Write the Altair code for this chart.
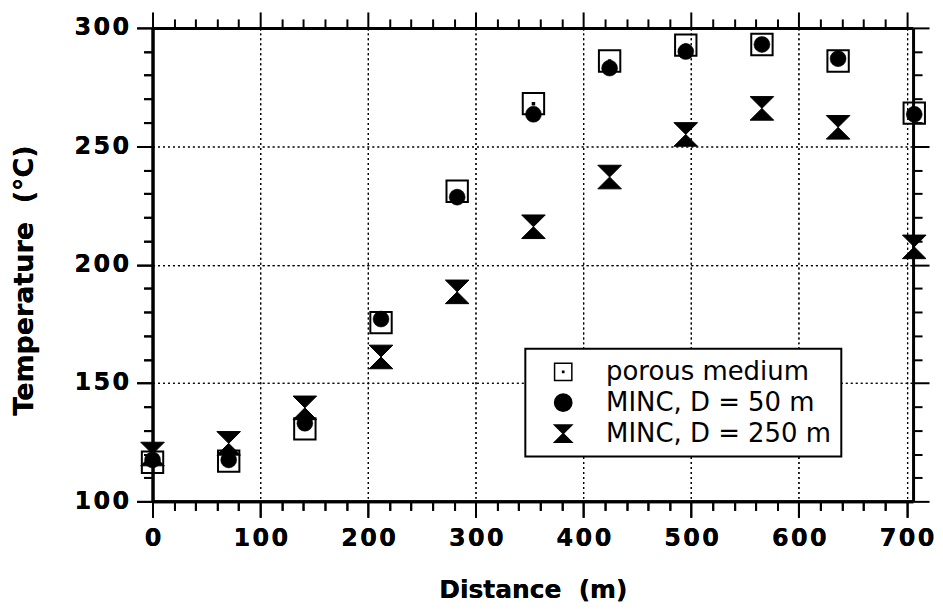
import altair as alt
import pandas as pd

# ---- data ----
distance = [0, 70.7, 141.4, 212.1, 282.8, 353.6, 424.3, 495.0, 565.7, 636.4, 707.1]
porous = [116.5, 117.0, 130.6, 175.5, 231.0, 268.0, 286.0, 292.7, 293.0, 286.0, 264.0]
minc50 = [117.5, 117.5, 133.0, 177.0, 228.5, 263.5, 283.0, 290.0, 293.0, 287.0, 263.5]
minc250 = [120.0, 124.5, 139.5, 161.0, 188.5, 216.0, 237.0, 255.0, 266.0, 258.0, 207.5]
series = ["porous medium", "MINC, D = 50 m", "MINC, D = 250 m"]
x_ticks = list(range(0, 701, 20))
y_ticks = list(range(100, 301, 10))

rows = []
for name, vals in zip(series, [porous, minc50, minc250]):
    for d, t in zip(distance, vals):
        rows.append({"distance": d, "temp": t, "series": name})
df = pd.DataFrame(rows)

SQUARE = "M-1,-1H1V1H-1Z M-0.07,-0.07H0.07V0.07H-0.07Z"
BOWTIE = "M-1,-1H1L-1,1H1Z"

FONT = "DejaVu Sans"
GAP = "\u200a"
NB = "\u00a0"

x_scale = alt.Scale(domain=[0, 706], nice=False, zero=False)
y_scale = alt.Scale(domain=[100, 300], nice=False, zero=False)
shape_scale = alt.Scale(domain=series, range=[SQUARE, "circle", BOWTIE])
fill_scale = alt.Scale(domain=series, range=["transparent", "black", "black"])
stroke_scale = alt.Scale(domain=series, range=["black", "black", "black"])

legend = alt.Legend(
    title=None, orient="none", legendX=374, legendY=322,
    strokeColor="black", fillColor="white", padding=10,
    symbolOffset=15, labelOffset=30, rowPadding=5,
    labelFont=FONT, labelFontSize=26, labelColor="black",
    symbolSize=300, symbolStrokeColor="black", symbolStrokeWidth=1.5,
    labelLimit=400,
)


def axis(orient, step, labels, title=None, **kw):
    major = f"datum.value % {step} === 0"
    args = dict(
        orient=orient,
        domainColor="black", domainWidth=3,
        tickColor="black", tickWidth=2,
        tickSize={"condition": {"test": major, "value": 16}, "value": 9},
        labelOverlap=False, labelFlush=False,
    )
    if labels:
        args.update(
            labels=True,
            labelExpr=f"{major} ? join(split(datum.label, ''), '{GAP}') : ''",
            labelFont=FONT, labelFontWeight="bold", labelFontSize=24,
            labelColor="black",
            grid=True, gridColor="black", gridWidth=1.2, gridDash=[2, 3],
            gridOpacity={"condition": {"test": major, "value": 1}, "value": 0},
            title=title, titleFont=FONT, titleFontWeight="bold",
            titleColor="black",
        )
    else:
        args.update(labels=False, grid=False, title=None)
    args.update(kw)
    return alt.Axis(**args)


x_bottom = axis("bottom", 100, True, f"Distance{NB}{NB}(m)", values=x_ticks,
                labelPadding=9, titleY=96, titleBaseline="alphabetic",
                titleFontSize=25)
y_left = axis("left", 50, True, f"Temperature{NB}{NB}(°C)", values=y_ticks,
              labelPadding=8, titleX=-120, titleY=253, titleAngle=270,
              titleBaseline="alphabetic", titleAlign="center",
              titleFontSize=27)
x_top = axis("top", 100, False, values=x_ticks)
y_right = axis("right", 50, False, values=y_ticks)


def layer(name, size, stroke_width, xa, ya):
    return alt.Chart(df).transform_filter(
        alt.datum.series == name
    ).mark_point(
        filled=True, opacity=1, size=size, strokeWidth=stroke_width
    ).encode(
        x=alt.X("distance:Q", scale=x_scale, axis=xa),
        y=alt.Y("temp:Q", scale=y_scale, axis=ya),
        shape=alt.Shape("series:N", scale=shape_scale, legend=legend),
        fill=alt.Fill("series:N", scale=fill_scale, legend=legend),
        stroke=alt.Stroke("series:N", scale=stroke_scale, legend=legend),
    )


chart = alt.layer(
    layer(series[0], 460, 2, x_bottom, y_left),
    layer(series[1], 256, 0.5, x_bottom, y_left),
    layer(series[2], 560, 1, x_top, y_right),
).properties(
    width=763, height=475, autosize="none",
    padding={"left": 145, "top": 19, "right": 22, "bottom": 101},
    background="white",
).configure_view(stroke=None).configure_legend(strokeWidth=2)

chart.save("out.html", embed_options={"renderer": "svg", "actions": False})
